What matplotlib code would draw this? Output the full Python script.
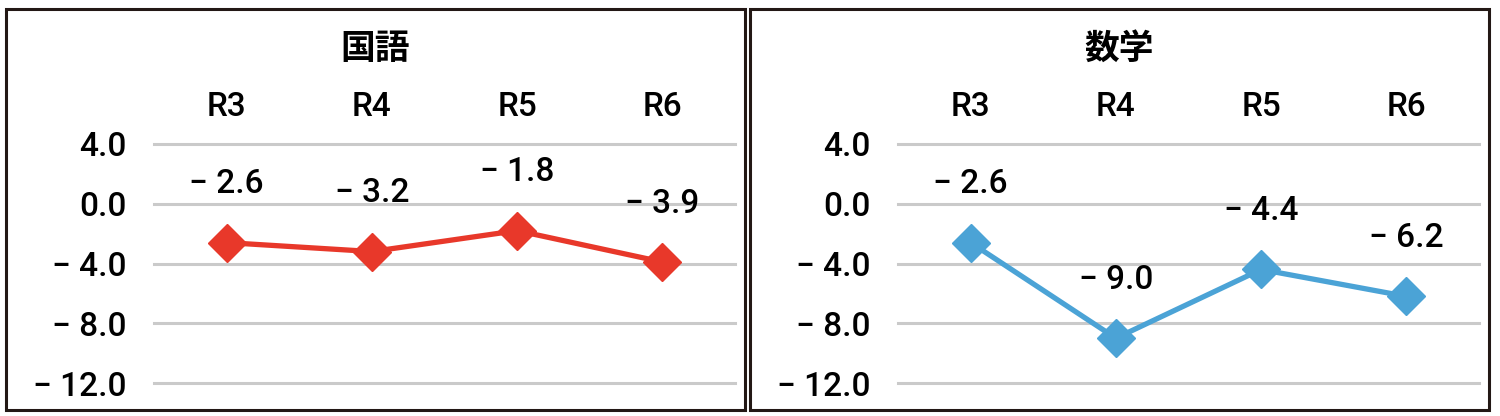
import matplotlib.pyplot as plt
from matplotlib.patches import Rectangle

# データ
categories = ["R3", "R4", "R5", "R6"]
kokugo = [-2.6, -3.2, -1.8, -3.9]
sugaku = [-2.6, -9.0, -4.4, -6.2]
yticks = [4.0, 0.0, -4.0, -8.0, -12.0]
titles = ["国語", "数学"]
colors = ["#E8382A", "#4BA3D6"]

plt.rcParams["font.family"] = ["Roboto", "Noto Sans CJK JP", "DejaVu Sans"]
plt.rcParams["font.weight"] = "medium"


def fmt(v):
    # マイナスは記号＋空白で表記
    return ("\u2212 " if v < 0 else "") + f"{abs(v):.1f}"


fig = plt.figure(figsize=(15, 4.16), dpi=100)

# 枠線
frames = [6, 750]
for x0 in frames:
    fig.add_artist(Rectangle((x0 / 1500, 6 / 416), 739 / 1500, 401 / 416,
                             transform=fig.transFigure, fill=False,
                             edgecolor="#231815", linewidth=2.2))

lefts = [154, 898]
for i, vals in enumerate([kokugo, sugaku]):
    ax = fig.add_axes([lefts[i] / 1500, 1 - 383 / 416, 581 / 1500, (383 - 144) / 416])
    ax.set_xlim(-0.5, 3.5)
    ax.set_ylim(-12, 4)
    for s in ax.spines.values():
        s.set_visible(False)
    for yv in yticks:
        ax.axhline(yv, color="#CACACA", linewidth=2.2, zorder=0, clip_on=False)
    ax.set_yticks(yticks)
    ax.set_yticklabels([fmt(v) for v in yticks], fontsize=24)
    ax.tick_params(axis="y", length=0, pad=20)
    ax.xaxis.tick_top()
    ax.set_xticks(range(4))
    ax.set_xticklabels(categories, fontsize=24)
    ax.tick_params(axis="x", length=0, pad=15)
    x = list(range(4))
    ax.plot(x, vals, color=colors[i], linewidth=3.8, marker="D",
            markersize=19, clip_on=False)
    for xi, v in zip(x, vals):
        ax.annotate(fmt(v), (xi, v), xytext=(0, 42), textcoords="offset points",
                    ha="center", va="center", fontsize=24)
    fig.text((frames[i] + 369) / 1500, 1 - 48 / 416, titles[i], ha="center",
             va="center", fontsize=25, fontweight="bold",
             family=["Noto Sans CJK JP", "DejaVu Sans"])

fig.savefig("out.png", dpi=100)
